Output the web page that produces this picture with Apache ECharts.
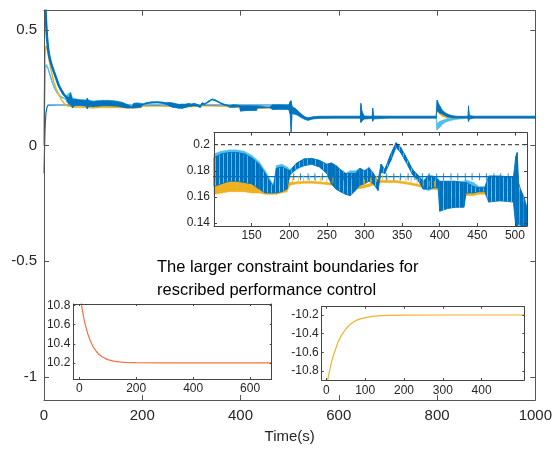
<!DOCTYPE html>
<html>
<head>
<meta charset="utf-8">
<script src="https://cdn.jsdelivr.net/npm/echarts@6/dist/echarts.min.js"></script>
<style>
  html, body { margin: 0; padding: 0; background: #fff; }
  #chart { width: 555px; height: 451px; }
</style>
</head>
<body>
<div id="chart"></div>
<script>
// ---- Tracking error trajectories (time in s) ----
const bandT = [45, 50, 54, 58, 62, 70, 80, 86, 88, 91,
  100, 110, 120, 130, 140, 150, 160, 168, 174, 179,
  183, 190, 197, 201, 210, 220, 230, 240, 250, 256,
  262, 268, 275, 281, 288, 294, 300, 306, 312, 318,
  322, 327, 335, 342, 348, 354, 364, 372, 378, 385,
  392, 398, 400, 410, 420, 432, 435, 445, 452, 460,
  465, 480, 498, 501, 503, 505, 508, 512, 516, 522,
  530, 537, 548, 560, 600, 644, 645, 647, 652, 668,
  669, 671, 700, 798, 800, 806, 812, 820, 830, 840,
  863, 864, 866, 875, 1000];

// dark blue trajectory: lower / upper envelope of its fast oscillation
const blueLo = [.200, .182, .180, .163, .172, .175, .172, .170, .158, .170,
  .168, .170, .172, .172, .171, .170, .166, .163, .163, .163,
  .163, .164, .166, .177, .182, .184, .185, .183, .178, .170,
  .166, .164, .162, .161, .165, .169, .170, .172, .170, .165,
  .179, .178, .188, .198, .194, .188, .177, .172, .166, .166,
  .167, .167, .149, .151, .152, .152, .163, .163, .164, .164,
  .156, .157, .156, .137, .056, .140, .138, .136, .133, .125,
  .115, .110, .116, .118, .119, .119, .100, .106, .115, .118,
  .105, .116, .119, .119, .150, .140, .135, .125, .120, .119,
  .119, .104, .115, .119, .119];
const blueHi = [.214, .205, .228, .200, .200, .198, .196, .195, .205, .195,
  .190, .193, .194, .194, .193, .190, .185, .178, .172, .168,
  .182, .183, .181, .180, .186, .189, .1895, .188, .185, .186,
  .184, .181, .178, .178, .178, .182, .180, .182, .178, .172,
  .185, .181, .193, .2015, .198, .192, .181, .176, .172, .176,
  .175, .173, .172, .172, .172, .171, .171, .168, .167, .167,
  .176, .176, .175, .191, .194, .170, .165, .160, .152, .140,
  .126, .120, .125, .127, .127, .127, .183, .150, .128, .127,
  .163, .128, .127, .127, .197, .170, .150, .138, .130, .127,
  .127, .172, .130, .127, .127];

// light blue trajectory
const cyanLo = [.190, .180, .176, .165, .172, .174, .172, .170, .165, .170,
  .169, .171, .173, .173, .172, .170, .167, .164, .163, .163,
  .163, .165, .167, .177, .181, .184, .185, .183, .178, .170,
  .166, .164, .162, .161, .165, .169, .170, .172, .170, .165,
  .179, .178, .188, .198, .194, .188, .177, .172, .166, .165,
  .166, .166, .150, .152, .152, .153, .162, .162, .163, .163,
  .157, .157, .157, .140, .080, .138, .136, .134, .130, .122,
  .113, .109, .115, .117, .118, .118, .105, .108, .115, .117,
  .108, .115, .118, .118, .068, .080, .095, .104, .110, .114,
  .118, .108, .115, .118, .118];
const cyanHi = [.215, .225, .230, .205, .204, .200, .198, .197, .202, .196,
  .193, .195, .196, .196, .195, .192, .187, .180, .174, .169,
  .184, .185, .183, .181, .186, .1895, .1895, .188, .185, .186,
  .184, .181, .178, .180, .180, .182, .180, .183, .178, .172,
  .185, .181, .193, .2015, .198, .192, .181, .176, .172, .177,
  .176, .174, .172, .172, .172, .172, .173, .171, .168, .168,
  .176, .176, .175, .185, .180, .166, .160, .155, .150, .138,
  .124, .119, .124, .126, .127, .127, .170, .140, .127, .126,
  .155, .127, .127, .127, .095, .105, .110, .116, .120, .124,
  .127, .160, .128, .127, .127];

// amber trajectory
const amberLo = [.172, .170, .168, .166, .165, .165, .164, .164, .164, .163,
  .162, .163, .164, .164, .164, .163, .163, .162, .162, .162,
  .162, .163, .164, .169, .170, .1705, .1705, .170, .1695, .169,
  .168, .167, .166, .166, .166, .1665, .167, .168, .169, .170,
  .171, .171, .171, .171, .1705, .170, .169, .168, .167, .1665,
  .166, .1655, .162, .160, .160, .160, .161, .161, .162, .162,
  .160, .160, .160, .158, .150, .146, .144, .140, .135, .127,
  .119, .116, .118, .119, .120, .120, .115, .117, .119, .120,
  .118, .120, .120, .120, .150, .135, .125, .121, .120, .120,
  .120, .117, .119, .120, .120];
const amberHi = [.176, .174, .172, .170, .169, .169, .168, .168, .168, .170,
  .170, .174, .176, .1765, .176, .174, .170, .166, .165, .165,
  .168, .170, .171, .171, .1715, .172, .172, .1715, .171, .1705,
  .170, .169, .168, .168, .168, .1685, .169, .170, .171, .172,
  .1725, .1725, .1725, .1725, .172, .1715, .1705, .1695, .1685, .168,
  .1675, .167, .166, .164, .164, .164, .164, .164, .165, .165,
  .164, .164, .164, .164, .162, .158, .152, .147, .142, .133,
  .123, .119, .121, .122, .123, .123, .130, .127, .123, .123,
  .126, .123, .123, .123, .168, .150, .137, .128, .124, .123,
  .123, .128, .124, .123, .123];

// start-up transients
const transT = [0, 1, 2, 3, 4, 6, 8, 10, 13, 16, 20, 25, 30, 35, 40, 45, 50];
const blueTrans = [0.80, 0.72, 0.65, 0.59, 0.54, 0.47, 0.425, 0.395, 0.365, 0.345, 0.32, 0.29, 0.26, 0.24, 0.222, 0.21, 0.198];
const amberTrans = [0.0, 0.25, 0.38, 0.42, 0.43, 0.42, 0.40, 0.375, 0.34, 0.31, 0.275, 0.245, 0.22, 0.20, 0.185, 0.174, 0.172];
const cyanTrans = [0.0, 0.20, 0.30, 0.34, 0.35, 0.345, 0.335, 0.32, 0.30, 0.28, 0.255, 0.235, 0.22, 0.21, 0.205, 0.20, 0.20];

// slowly varying reference trajectory
const flatT = [0, 1, 2, 3, 4, 6, 8, 12, 30, 505];
const flatV = [-0.12, -0.02, 0.06, 0.11, 0.14, 0.165, 0.175, 0.178, 0.1755, 0.1755];
const flatTickT = [206, 215, 225, 234, 244, 253, 263, 272, 282, 291, 301, 310, 320, 329, 339,
  348, 358, 367, 377, 386, 396, 405, 415, 424, 434, 443, 453, 462, 472, 481, 491, 500];
const amberTickT = [204, 212, 219, 227, 235, 242, 250, 258, 300, 308, 316, 324, 331, 339, 347,
  355, 362, 370, 378, 386, 393];
const amberTickV = [.171, .1715, .172, .172, .172, .1715, .171, .1705, .169, .170, .1715, .1725, .1725, .1725, .172,
  .1715, .1705, .1695, .1685, .168, .1675];

// constraint boundary shown in the zoomed view
const boundT = [100, 516];
const boundV = 0.2;

// prescribed performance boundaries
const upperT = [0, 5, 10, 15, 20, 30, 40, 50, 60, 70, 80, 90, 100, 120, 140, 160, 200, 300, 676];
const upperV = [10.975, 10.862, 10.767, 10.685, 10.615, 10.503, 10.422, 10.362, 10.319, 10.287,
  10.264, 10.247, 10.234, 10.218, 10.21, 10.205, 10.201, 10.2, 10.2];
const lowerT = [0, 5, 10, 15, 20, 25, 30, 40, 50, 60, 70, 80, 90, 100, 120, 140, 160, 200, 300, 510];
const lowerV = [-10.98, -10.86, -10.76, -10.675, -10.61, -10.55, -10.49, -10.41, -10.35, -10.305,
  -10.275, -10.252, -10.238, -10.228, -10.214, -10.207, -10.203, -10.201, -10.2, -10.2];

// tick labels
const mainXTicks = [0, 200, 400, 600, 800, 1000];
const mainYTicks = [-1, -0.5, 0, 0.5];
const zoomXTicks = [150, 200, 250, 300, 350, 400, 450, 500];
const zoomYTicks = [0.14, 0.16, 0.18, 0.2];
const upXTicks = [0, 200, 400, 600];
const upYTicks = [10.2, 10.4, 10.6, 10.8];
const lowXTicks = [0, 100, 200, 300, 400];
const lowYTicks = [-10.8, -10.6, -10.4, -10.2];

[blueLo, blueHi, cyanLo, cyanHi, amberLo, amberHi].forEach(function (a) {
  if (a.length !== bandT.length) throw new Error('band length mismatch ' + a.length);
});

const FONT = '"Liberation Sans", Arial, Helvetica, sans-serif';
const C_BLUE = '#0072BD', C_CYAN = '#4DBEEE', C_AMBER = '#EDB120';

const zip = (t, v) => t.map((x, i) => [x, v[i]]);

// vertical-stripe fill, used for the densely oscillating envelope
function stripes(color, on, off) {
  const cv = document.createElement('canvas');
  cv.width = on + off; cv.height = 4;
  const ctx = cv.getContext('2d');
  ctx.fillStyle = color;
  ctx.fillRect(0, 0, on, 4);
  return { image: cv, repeat: 'repeat' };
}

const grids = [];
const xAxes = [];
const yAxes = [];

function addPanel(o) {
  const g = grids.length;
  grids.push({
    left: o.left, top: o.top, width: o.width, height: o.height,
    show: o.bg, backgroundColor: '#fff', borderWidth: 0, z: o.gz
  });
  const lc = o.lineColor;
  const common = (pos, ticks, isX) => ({
    type: 'value', gridIndex: g, position: pos,
    min: isX ? o.xMin : o.yMin, max: isX ? o.xMax : o.yMax,
    z: o.az,
    axisLine: { show: true, onZero: false, lineStyle: { color: lc, width: 1 } },
    axisTick: { show: true, inside: true, length: o.tick, customValues: ticks, lineStyle: { color: lc, width: 1 } },
    axisLabel: { show: false },
    splitLine: { show: false }
  });
  const xb = common('bottom', o.xTicks, true);
  xb.axisLabel = { show: true, customValues: o.xTicks, formatter: v => String(v), fontSize: o.fs,
    fontFamily: FONT, color: '#262626', margin: o.xMargin };
  if (o.xName) {
    xb.name = o.xName; xb.nameLocation = 'middle'; xb.nameGap = o.xNameGap;
    xb.nameTextStyle = { fontSize: 15, fontFamily: FONT, color: '#262626' };
  }
  const xt = common('top', o.xTicks, true);
  const yl = common('left', o.yTicks, false);
  yl.axisLabel = { show: true, customValues: o.yTicks, formatter: v => String(v), fontSize: o.fs,
    fontFamily: FONT, color: '#262626', margin: o.yMargin };
  const yr = common('right', o.yTicks, false);
  xAxes.push(xb, xt);
  yAxes.push(yl, yr);
  return { x: 2 * g, y: 2 * g };
}

const main = addPanel({ left: 44, top: 10.7, width: 496, height: 389.3, bg: false, gz: 0, az: 3,
  xMin: 0, xMax: 1000, yMin: -1.1, yMax: 0.5833, xTicks: mainXTicks, yTicks: mainYTicks,
  tick: 5, fs: 15, xMargin: 8, yMargin: 7, lineColor: '#555', xName: 'Time(s)', xNameGap: 29 });
const zoom = addPanel({ left: 214, top: 132.7, width: 313, height: 93.3, bg: true, gz: 5, az: 8,
  xMin: 100, xMax: 516, yMin: 0.1377, yMax: 0.2092, xTicks: zoomXTicks, yTicks: zoomYTicks,
  tick: 3, fs: 12, xMargin: 4, yMargin: 4, lineColor: '#444' });
const up = addPanel({ left: 73.3, top: 304, width: 198.4, height: 75, bg: true, gz: 5, az: 8,
  xMin: -21, xMax: 676, yMin: 10.03, yMax: 10.818, xTicks: upXTicks, yTicks: upYTicks,
  tick: 2, fs: 12, xMargin: 4, yMargin: 3, lineColor: '#444' });
const low = addPanel({ left: 321.7, top: 306.7, width: 202.6, height: 73.3, bg: true, gz: 5, az: 8,
  xMin: -12, xMax: 510, yMin: -10.896, yMax: -10.111, xTicks: lowXTicks, yTicks: lowYTicks,
  tick: 2, fs: 12, xMargin: 5, yMargin: 3, lineColor: '#444' });

// oscillation envelope drawn as a strip between lo and hi
function band(ax, lo, hi, color, fill, strokeW, z) {
  const data = [];
  for (let i = 0; i < bandT.length - 1; i++) {
    data.push([bandT[i], lo[i], hi[i], bandT[i + 1], lo[i + 1], hi[i + 1]]);
  }
  return {
    type: 'custom', xAxisIndex: ax.x, yAxisIndex: ax.y, z: z, silent: true,
    encode: { x: [0, 3], y: [1, 2, 4, 5] },
    renderItem: function (params, api) {
      const r = params.coordSys;
      const a = api.coord([api.value(0), api.value(1)]);
      const b = api.coord([api.value(3), api.value(4)]);
      const c = api.coord([api.value(3), api.value(5)]);
      const d = api.coord([api.value(0), api.value(2)]);
      if (b[0] <= r.x || a[0] >= r.x + r.width) return null;
      const pts = echarts.graphic.clipPointsByRect([a, b, c, d], r);
      return { type: 'polygon', shape: { points: pts },
        style: { fill: fill, stroke: color, lineWidth: strokeW } };
    },
    data: data
  };
}

function line(ax, t, v, color, width, z, extra) {
  return Object.assign({
    type: 'line', xAxisIndex: ax.x, yAxisIndex: ax.y, z: z, silent: true,
    data: zip(t, v), showSymbol: false, symbol: 'none', clip: true,
    lineStyle: { color: color, width: width }
  }, extra || {});
}

function ticks(ax, t, v, color, size, offset, z) {
  return {
    type: 'scatter', xAxisIndex: ax.x, yAxisIndex: ax.y, z: z, silent: true,
    data: t.map((x, i) => [x, Array.isArray(v) ? v[i] : v]),
    symbol: 'rect', symbolSize: size, symbolOffset: offset,
    itemStyle: { color: color }, clip: true
  };
}

const series = [
  // overview
  band(main, cyanLo, cyanHi, C_CYAN, C_CYAN, 0.7, 2),
  band(main, amberLo, amberHi, C_AMBER, C_AMBER, 0.7, 2),
  band(main, blueLo, blueHi, C_BLUE, C_BLUE, 0.6, 2),
  line(main, flatT, flatV, C_BLUE, 1.2, 2),
  line(main, transT, cyanTrans, C_CYAN, 1.5, 2),
  line(main, transT, amberTrans, C_AMBER, 1.5, 2),
  line(main, transT, blueTrans, C_BLUE, 2.5, 2),
  // zoomed view
  line(zoom, boundT, [boundV, boundV], '#222', 1, 6, { lineStyle: { color: '#222', width: 1, type: [4, 3] } }),
  band(zoom, cyanLo, cyanHi, C_CYAN, C_CYAN, 0.6, 6),
  band(zoom, amberLo, amberHi, C_AMBER, C_AMBER, 0.6, 6),
  ticks(zoom, amberTickT, amberTickV, C_AMBER, [1, 6], [0, -3], 6),
  band(zoom, blueLo, blueHi, C_BLUE, stripes(C_BLUE, 3, 1), 0.8, 6),
  line(zoom, flatT, flatV, C_BLUE, 1.1, 6),
  ticks(zoom, flatTickT, 0.1755, C_BLUE, [1, 7], [0, 0], 6),
  // performance boundaries
  line(up, upperT, upperV, '#F47240', 1.2, 6),
  line(low, lowerT, lowerV, '#F2B22B', 1.2, 6)
];

const chart = echarts.init(document.getElementById('chart'), null, { renderer: 'canvas' });
chart.setOption({
  animation: false,
  backgroundColor: '#fff',
  grid: grids,
  xAxis: xAxes,
  yAxis: yAxes,
  series: series,
  graphic: [
    { type: 'text', left: 157, top: 259, z: 20,
      style: { text: 'The larger constraint boundaries for', font: '16.5px ' + FONT, fill: '#000' } },
    { type: 'text', left: 157, top: 282, z: 20,
      style: { text: 'rescribed performance control', font: '16.5px ' + FONT, fill: '#000' } }
  ]
});
</script>
</body>
</html>
